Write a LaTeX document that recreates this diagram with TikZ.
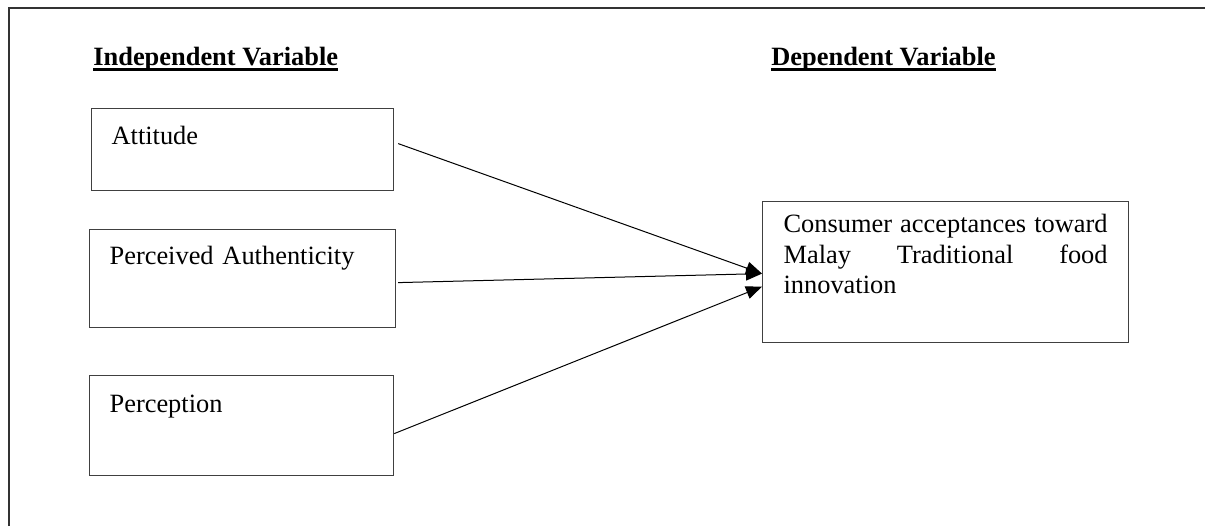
\documentclass[tikz,border=0pt]{standalone}
\usepackage{fontspec}
\setmainfont{Liberation Serif}
\usetikzlibrary{arrows.meta}

\newlength\headulwd
\newcommand\headul[1]{%
  \settowidth\headulwd{#1}#1\llap{\rule[-3pt]{\headulwd}{1.5pt}}}

\begin{document}
\begin{tikzpicture}[
    x=0.5pt, y=-0.5pt,
    cf heading/.style={
        font=\fontsize{13.2}{15.25}\selectfont\bfseries,
        anchor=base west,
        inner sep=0pt
    },
    cf variable/.style={
        draw=black!75,
        line width=0.6pt,
        anchor=north west,
        font=\fontsize{13.2}{15.25}\selectfont,
        inner xsep=10pt,
        inner ysep=0pt,
        align=left
    },
    cf effect/.style={
        -{Triangle[length=8pt,width=6.5pt]},
        line width=0.5pt,
        draw=black
    },
    cf frame/.style={
        draw=black!80,
        line width=0.75pt
    }
]
    \useasboundingbox (0,0) rectangle (1205,526);

    % Rahmen (rechts und unten abgeschnitten)
    \draw[cf frame] (9,526) |- (1205,8);

    % Ueberschriften
    \node[cf heading] (indep) at (93,65) {\headul{Independent Variable}};
    \node[cf heading] (dep) at (771,65) {\headul{Dependent Variable}};

    % Unabhaengige Variablen
    \node[cf variable, text width=131pt, text height=18pt, text depth=23pt]
        (attitude) at (91,108) {Attitude};
    \node[cf variable, text width=133pt, text height=17.5pt, text depth=31.5pt]
        (authenticity) at (89,229) {Perceived Authenticity};
    \node[cf variable, text width=132pt, text height=18.5pt, text depth=31.5pt]
        (perception) at (89,375) {Perception};

    % Abhaengige Variable
    \node[cf variable, align=justify, inner xsep=10.5pt, text width=162pt,
          text height=15.5pt, text depth=55pt]
        (acceptance) at (762,201)
        {Consumer acceptances toward\linebreak Malay Traditional food\linebreak innovation};

    % Pfeile von links nach rechts
    \draw[cf effect] ([shift={(2pt,3pt)}]attitude.east)
        -- ([yshift=-0.75pt]acceptance.west);
    \draw[cf effect] ([shift={(1pt,-2pt)}]authenticity.east)
        -- ([yshift=-0.75pt]acceptance.west);
    \draw[cf effect] ([yshift=-4pt]perception.east)
        -- ([yshift=-7.25pt]acceptance.west);
\end{tikzpicture}
\end{document}
